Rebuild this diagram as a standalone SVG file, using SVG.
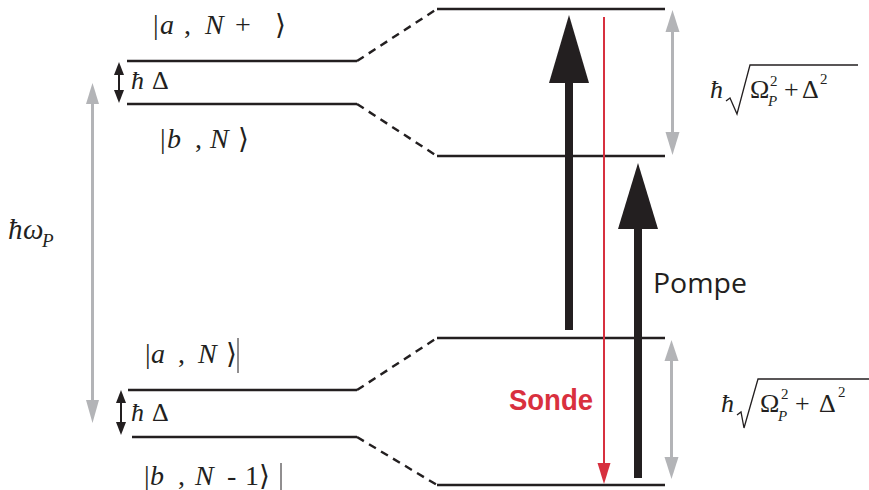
<svg xmlns="http://www.w3.org/2000/svg" width="869" height="490" viewBox="0 0 869 490">
<style>
.lvl{stroke:#231f20;stroke-width:2.6;fill:none}
.dash{stroke:#231f20;stroke-width:2.4;fill:none;stroke-dasharray:8 6}
.math{font-family:"Liberation Serif","DejaVu Serif",serif;font-size:28px;fill:#231f20}
.rabi{font-size:26px}
.it{font-style:italic}
.sm{font-size:15px}
.grey{stroke:#b3b4b7;stroke-width:3;fill:none}
.greyhead{fill:#b3b4b7}
.blk{fill:#231f20}
</style>
<rect width="869" height="490" fill="#fff"/>

<g id="level-a-N1">
<line class="lvl" x1="127" y1="61" x2="357" y2="61"/>
<text class="math" y="34"><tspan x="153">|</tspan><tspan x="160" class="it">a</tspan><tspan x="184">,</tspan><tspan x="205" class="it">N</tspan><tspan x="235">+</tspan><tspan x="275">⟩</tspan></text>
</g>
<g id="level-b-N">
<line class="lvl" x1="127" y1="104" x2="357" y2="104"/>
<text class="math" y="148"><tspan x="160">|</tspan><tspan x="167" class="it">b</tspan><tspan x="195">,</tspan><tspan x="210" class="it">N</tspan><tspan x="238">⟩</tspan></text>
</g>
<g id="level-a-N">
<line class="lvl" x1="128" y1="390" x2="357" y2="390"/>
<text class="math" y="363"><tspan x="145">|</tspan><tspan x="151" class="it">a</tspan><tspan x="178">,</tspan><tspan x="198" class="it">N</tspan><tspan x="226">⟩</tspan></text>
<line x1="238" y1="338" x2="238" y2="373" stroke="#231f20" stroke-width="1"/>
</g>
<g id="level-b-N-1">
<line class="lvl" x1="132" y1="437" x2="357" y2="437"/>
<text class="math" y="485"><tspan x="144">|</tspan><tspan x="150" class="it">b</tspan><tspan x="178">,</tspan><tspan x="195" class="it">N</tspan><tspan x="227">-</tspan><tspan x="245">1</tspan><tspan x="259">⟩</tspan></text>
<line x1="281" y1="463" x2="281" y2="490" stroke="#231f20" stroke-width="1"/>
</g>

<g id="dressed-top-plus"><line class="lvl" x1="437" y1="9" x2="665" y2="9"/></g>
<g id="dressed-top-minus"><line class="lvl" x1="437" y1="156" x2="665" y2="156"/></g>
<g id="dressed-bot-plus"><line class="lvl" x1="437" y1="338" x2="665" y2="338"/></g>
<g id="dressed-bot-minus"><line class="lvl" x1="437" y1="485" x2="665" y2="485"/></g>

<g id="delta-top">
<text class="math" style="font-size:26px" y="89"><tspan x="131" class="it">ħ</tspan><tspan x="152">Δ</tspan></text>
</g>
<g id="delta-bot">
<text class="math" style="font-size:26px" y="421"><tspan x="131" class="it">ħ</tspan><tspan x="152">Δ</tspan></text>
</g>
<g id="hbar-omega">
<text class="math" style="font-size:29px" y="239"><tspan x="8" class="it">ħ</tspan><tspan x="23" class="it">ω</tspan><tspan x="42" y="247" class="it" style="font-size:19px">P</tspan></text>
</g>
<g id="rabi-top">
<text class="math rabi" y="98"><tspan x="710" class="it">ħ</tspan><tspan x="750">Ω</tspan><tspan x="770" y="86" class="sm">2</tspan><tspan x="768" y="106" class="it sm">P</tspan><tspan x="784" y="98">+</tspan><tspan x="802">Δ</tspan><tspan x="820" y="84" class="sm">2</tspan></text>
<path d="M726,101 L730,98 L737,114 L750,65 L858,65" fill="none" stroke="#231f20" stroke-width="1.3"/>
</g>
<g id="rabi-bot">
<text class="math rabi" y="412"><tspan x="721" class="it">ħ</tspan><tspan x="760">Ω</tspan><tspan x="781" y="399" class="sm">2</tspan><tspan x="778" y="421" class="it sm">P</tspan><tspan x="795" y="412">+</tspan><tspan x="819">Δ</tspan><tspan x="838" y="397" class="sm">2</tspan></text>
<path d="M737,415 L741,412 L744,428 L758,379 L869,379" fill="none" stroke="#231f20" stroke-width="1.3"/>
</g>

<g id="connectors">
<line class="dash" x1="357" y1="61" x2="437" y2="9"/>
<line class="dash" x1="357" y1="104" x2="437" y2="156"/>
<line class="dash" x1="357" y1="390" x2="437" y2="338"/>
<line class="dash" x1="357" y1="437" x2="437" y2="485"/>

<line class="grey" x1="92.5" y1="100" x2="92.5" y2="404"/>
<polygon class="greyhead" points="92.5,83 86,104 99,104"/>
<polygon class="greyhead" points="92.5,423 86,400 99,400"/>

<line class="grey" x1="672.5" y1="28" x2="672.5" y2="136"/>
<polygon class="greyhead" points="672.5,10 665.5,32 679.5,32"/>
<polygon class="greyhead" points="672.5,155 665.5,132 679.5,132"/>
<line class="grey" x1="671.5" y1="358" x2="671.5" y2="460"/>
<polygon class="greyhead" points="671.5,340 664.5,361 678.5,361"/>
<polygon class="greyhead" points="671.5,479 664.5,457 678.5,457"/>

<line x1="119" y1="70" x2="119" y2="94" stroke="#231f20" stroke-width="2"/>
<polygon class="blk" points="119,62 114,75 124,75"/>
<polygon class="blk" points="119,103 114,90 124,90"/>
<line x1="121" y1="398" x2="121" y2="427" stroke="#231f20" stroke-width="2"/>
<polygon class="blk" points="121,390 116,403 126,403"/>
<polygon class="blk" points="121,435 116,422 126,422"/>

<rect class="blk" x="565" y="80" width="8" height="250"/>
<polygon class="blk" points="569,15 549,83 589,83"/>
<rect class="blk" x="634" y="226" width="8" height="252"/>
<polygon class="blk" points="638,163 618,229 658,229"/>

<line x1="604" y1="17" x2="604" y2="466" stroke="#d7303f" stroke-width="2"/>
<polygon points="604,484 597.5,463 610.5,463" fill="#d7303f"/>
</g>

<text x="653" y="293" font-family="Open Sans, Liberation Sans, sans-serif" font-size="27" fill="#231f20" textLength="94" lengthAdjust="spacingAndGlyphs">Pompe</text>
<text x="509" y="410" font-family="Liberation Sans, Arial, sans-serif" font-weight="bold" font-size="29" fill="#d9303e" textLength="84" lengthAdjust="spacingAndGlyphs">Sonde</text>
</svg>
